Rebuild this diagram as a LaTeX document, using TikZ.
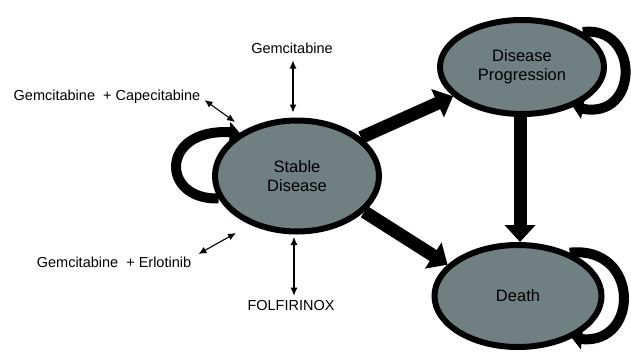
\documentclass[tikz,border=0pt]{standalone}
\usepackage{fontspec}
\setmainfont{Liberation Sans}
\usetikzlibrary{shapes.geometric,arrows.meta}
\definecolor{stategray}{RGB}{112,128,128}
\begin{document}
\begin{tikzpicture}[x=1pt,y=1pt,
  state/.style={ellipse,draw=black,line width=6pt,fill=stategray,align=center,
    font=\fontsize{16.5}{19}\selectfont,inner sep=0pt},
  lbl/.style={font=\fontsize{14.5}{17}\selectfont,inner sep=1pt},
  bigarrow/.style={line width=13pt,-{Triangle[width=30pt,length=17pt]}},
  looparrow/.style={line width=10pt,-{Triangle[width=20pt,length=10pt]}},
  smallarrow/.style={line width=1.1pt,{Latex[width=7pt,length=8pt]}-{Latex[width=7pt,length=8pt]}}
]
\useasboundingbox (0,0) rectangle (631,-351);
\node[state,minimum width=164pt,minimum height=111pt] (sd) at (297,-176) {Stable\\Disease};
\node[state,minimum width=164pt,minimum height=94pt] (dp) at (522,-67) {Disease\\Progression};
\node[state,minimum width=167pt,minimum height=102pt] (de) at (518,-296) {Death};
% labels
\node[lbl] (g1) at (292,-48) {Gemcitabine};
\node[lbl] (gc) at (107,-97) {Gemcitabine\ \ + Capecitabine};
\node[lbl] (ge) at (114,-262) {Gemcitabine\ \ + Erlotinib};
\node[lbl] (fo) at (291,-306) {FOLFIRINOX};
% thick arrows
\draw[bigarrow] (sd.31) -- (dp.203);
\draw[bigarrow] (sd.-28) -- (de.156);
\draw[bigarrow] ([xshift=-2pt]dp.south) -- ([xshift=2pt]de.north);
% self loops
\draw[looparrow] (sd.196) .. controls (160,-200) and (160,-128) .. (sd.143);
\draw[looparrow] (dp.30) .. controls (640,-25) and (640,-120) .. (dp.-38);
\draw[looparrow] (de.40) .. controls (640,-245) and (640,-345) .. (de.-38);
% small arrows
\draw[smallarrow,shorten <=6pt,shorten >=5pt] ([xshift=1pt]g1.south) -- ([xshift=1pt]g1.south |- sd.north);
\draw[smallarrow,shorten <=4pt,shorten >=4pt] (fo.north -| 294,0) -- (294,-233);
\draw[smallarrow] ([shift={(3pt,-3pt)}]gc.east) -- (235,-122);
\draw[smallarrow] ([shift={(6pt,8pt)}]ge.east) -- (236,-233);
\end{tikzpicture}
\end{document}
